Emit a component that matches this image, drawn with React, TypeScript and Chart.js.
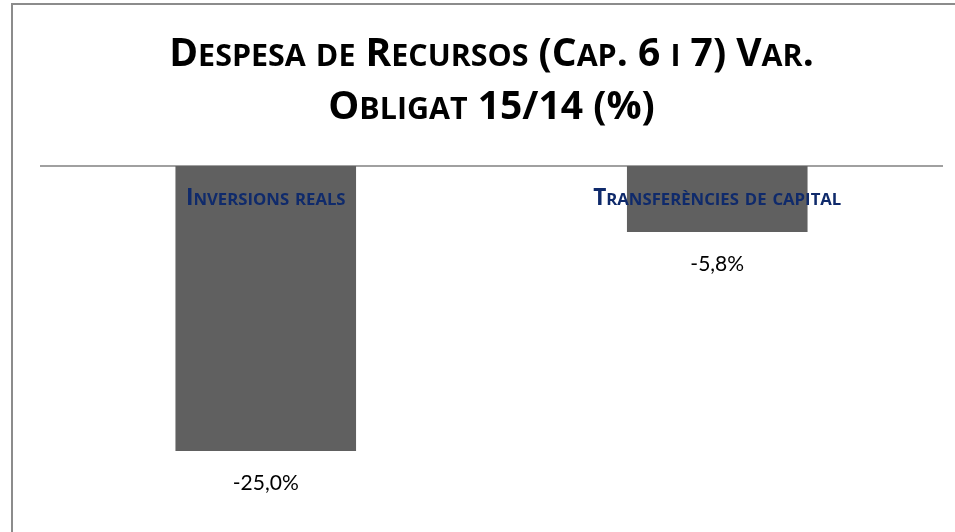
import React, { useEffect, useRef } from 'react';
import { Chart, registerables } from 'chart.js';

Chart.register(...registerables);

const titleLines = ['Despesa de Recursos (Cap. 6 i 7) Var.', 'Obligat 15/14 (%)'];
const categories = ['Inversions reals', 'Transferències de capital'];
const values = [-25.0, -5.8];
const yMin = -30;
const yMax = 0;

const BOLD_FONT = '"Open Sans", "Noto Sans", sans-serif';
const VALUE_FONT = 'Lato, "Open Sans", sans-serif';
const BAR_COLOR = '#606060';
const LABEL_COLOR = '#0f2a6b';

function drawSmallCaps(
  ctx: CanvasRenderingContext2D,
  text: string,
  cx: number,
  y: number,
  size: number,
  ratio: number,
  weight: string,
  color: string
) {
  const segs: { t: string; s: number }[] = [];
  for (const ch of text) {
    const lower = ch !== ch.toUpperCase();
    const s = lower ? size * ratio : size;
    const t = ch.toUpperCase();
    const last = segs[segs.length - 1];
    if (last && last.s === s) last.t += t;
    else segs.push({ t, s });
  }
  let total = 0;
  const widths: number[] = [];
  for (const seg of segs) {
    ctx.font = `${weight} ${seg.s}px ${BOLD_FONT}`;
    const w = ctx.measureText(seg.t).width;
    widths.push(w);
    total += w;
  }
  let x = cx - total / 2;
  ctx.fillStyle = color;
  ctx.textAlign = 'left';
  ctx.textBaseline = 'alphabetic';
  segs.forEach((seg, i) => {
    ctx.font = `${weight} ${seg.s}px ${BOLD_FONT}`;
    ctx.fillText(seg.t, x, y);
    x += widths[i];
  });
}

const decorPlugin = {
  id: 'decor',
  beforeDatasetsDraw(chart: any) {
    const { ctx, chartArea, scales } = chart;
    const y0 = scales.y.getPixelForValue(0);
    ctx.save();
    ctx.strokeStyle = '#a0a0a0';
    ctx.lineWidth = 2;
    ctx.beginPath();
    ctx.moveTo(chartArea.left, y0);
    ctx.lineTo(chartArea.right, y0);
    ctx.stroke();
    ctx.restore();
  },
  afterDatasetsDraw(chart: any) {
    const { ctx, width, scales } = chart;
    ctx.save();
    // Title
    drawSmallCaps(ctx, titleLines[0], width / 2, 61, 39, 0.78, 'bold', '#000000');
    drawSmallCaps(ctx, titleLines[1], width / 2, 114, 39, 0.78, 'bold', '#000000');
    const y0 = scales.y.getPixelForValue(0);
    const meta = chart.getDatasetMeta(0);
    meta.data.forEach((bar: any, i: number) => {
      // category label near the zero line
      drawSmallCaps(ctx, categories[i], bar.x, y0 + 39, 22.6, 0.74, 'bold', LABEL_COLOR);
      // value label below bar
      const txt = values[i].toFixed(1).replace('.', ',') + '%';
      ctx.font = `normal 21px ${VALUE_FONT}`;
      ctx.fillStyle = '#000000';
      ctx.textAlign = 'center';
      ctx.textBaseline = 'alphabetic';
      ctx.fillText(txt, bar.x, bar.y + 39);
    });
    ctx.restore();
  },
};

export default function App() {
  const ref = useRef<HTMLCanvasElement | null>(null);
  useEffect(() => {
    if (!ref.current) return;
    const chart = new Chart(ref.current, {
      type: 'bar',
      data: {
        labels: categories,
        datasets: [
          {
            data: values,
            backgroundColor: BAR_COLOR,
            borderWidth: 0,
            barPercentage: 0.4,
            categoryPercentage: 1.0,
          },
        ],
      },
      options: {
        animation: false,
        responsive: true,
        maintainAspectRatio: false,
        layout: { padding: { left: 27, right: 27, top: 161, bottom: 33 } },
        plugins: {
          legend: { display: false },
          title: { display: false },
          tooltip: { enabled: false },
        },
        scales: {
          x: { display: false },
          y: { display: false, min: yMin, max: yMax },
        },
      },
      plugins: [decorPlugin],
    });
    return () => chart.destroy();
  }, []);
  return (
    <div
      style={{
        position: 'fixed',
        left: 11,
        top: 3,
        width: 961,
        height: 540,
        border: '2px solid #8c8c8c',
        boxSizing: 'border-box',
        background: '#ffffff',
      }}
    >
      <div style={{ position: 'relative', width: '100%', height: '100%' }}>
        <canvas ref={ref} />
      </div>
    </div>
  );
}
